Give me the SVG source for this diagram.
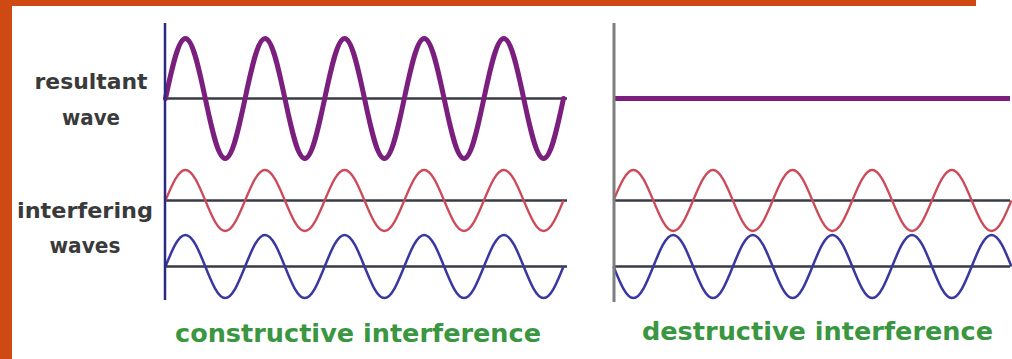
<svg xmlns="http://www.w3.org/2000/svg" width="1012" height="359" viewBox="0 0 1012 359">
<style>
.lbl{font-family:"DejaVu Sans","Verdana",sans-serif;font-weight:bold;font-size:22px;fill:#3a3a3a;text-anchor:middle}
.cap{font-family:"DejaVu Sans","Verdana",sans-serif;font-weight:bold;font-size:25px;fill:#3a9640}
.ax{stroke:#3a3a46;stroke-width:2.5;fill:none}
.res{stroke:#7a1f7e;stroke-width:5;fill:none;stroke-linecap:round}
.red{stroke:#cc4a5a;stroke-width:2.3;fill:none}
.blue{stroke:#3a38a0;stroke-width:2.5;fill:none}
</style>
<rect x="0" y="0" width="1012" height="359" fill="#ffffff"/>
<g id="border" fill="#cf4a12">
<rect x="0" y="0" width="12" height="359"/>
<rect x="0" y="0" width="976" height="6"/>
</g>
<g id="labels">
<text class="lbl" x="91" y="89" textLength="113" lengthAdjust="spacingAndGlyphs">resultant</text>
<text class="lbl" x="91" y="125" textLength="58" lengthAdjust="spacingAndGlyphs">wave</text>
<text class="lbl" x="85" y="218" textLength="136" lengthAdjust="spacingAndGlyphs">interfering</text>
<text class="lbl" x="85" y="253" textLength="71" lengthAdjust="spacingAndGlyphs">waves</text>
</g>
<g id="constructive">
<line class="ax" x1="165" y1="98.5" x2="567" y2="98.5" stroke-width="3"/>
<line class="ax" x1="165" y1="200.5" x2="567" y2="200.5"/>
<line class="ax" x1="165" y1="266.5" x2="567" y2="266.5"/>
<path class="res" d="M165.5,98.5 c6.49,-30.74 12.7,-60 19.9,-60 c7.2,0 13.41,29.26 19.9,60 c6.49,30.74 12.7,60 19.9,60 c7.2,0 13.41,-29.26 19.9,-60 c6.49,-30.74 12.7,-60 19.9,-60 c7.2,0 13.41,29.26 19.9,60 c6.49,30.74 12.7,60 19.9,60 c7.2,0 13.41,-29.26 19.9,-60 c6.49,-30.74 12.7,-60 19.9,-60 c7.2,0 13.41,29.26 19.9,60 c6.49,30.74 12.7,60 19.9,60 c7.2,0 13.41,-29.26 19.9,-60 c6.49,-30.74 12.7,-60 19.9,-60 c7.2,0 13.41,29.26 19.9,60 c6.49,30.74 12.7,60 19.9,60 c7.2,0 13.41,-29.26 19.9,-60 c6.49,-30.74 12.7,-60 19.9,-60 c7.2,0 13.41,29.26 19.9,60 c6.49,30.74 12.7,60 19.9,60 c7.2,0 13.41,-29.26 19.9,-60"/>
<path class="red" d="M165.5,200.5 c6.49,-15.63 12.7,-30.5 19.9,-30.5 c7.2,0 13.41,14.88 19.9,30.5 c6.49,15.63 12.7,30.5 19.9,30.5 c7.2,0 13.41,-14.88 19.9,-30.5 c6.49,-15.63 12.7,-30.5 19.9,-30.5 c7.2,0 13.41,14.88 19.9,30.5 c6.49,15.63 12.7,30.5 19.9,30.5 c7.2,0 13.41,-14.88 19.9,-30.5 c6.49,-15.63 12.7,-30.5 19.9,-30.5 c7.2,0 13.41,14.88 19.9,30.5 c6.49,15.63 12.7,30.5 19.9,30.5 c7.2,0 13.41,-14.88 19.9,-30.5 c6.49,-15.63 12.7,-30.5 19.9,-30.5 c7.2,0 13.41,14.88 19.9,30.5 c6.49,15.63 12.7,30.5 19.9,30.5 c7.2,0 13.41,-14.88 19.9,-30.5 c6.49,-15.63 12.7,-30.5 19.9,-30.5 c7.2,0 13.41,14.88 19.9,30.5 c6.49,15.63 12.7,30.5 19.9,30.5 c7.2,0 13.41,-14.88 19.9,-30.5"/>
<path class="blue" d="M165.5,266.5 c6.49,-16.14 12.7,-31.5 19.9,-31.5 c7.2,0 13.41,15.36 19.9,31.5 c6.49,16.14 12.7,31.5 19.9,31.5 c7.2,0 13.41,-15.36 19.9,-31.5 c6.49,-16.14 12.7,-31.5 19.9,-31.5 c7.2,0 13.41,15.36 19.9,31.5 c6.49,16.14 12.7,31.5 19.9,31.5 c7.2,0 13.41,-15.36 19.9,-31.5 c6.49,-16.14 12.7,-31.5 19.9,-31.5 c7.2,0 13.41,15.36 19.9,31.5 c6.49,16.14 12.7,31.5 19.9,31.5 c7.2,0 13.41,-15.36 19.9,-31.5 c6.49,-16.14 12.7,-31.5 19.9,-31.5 c7.2,0 13.41,15.36 19.9,31.5 c6.49,16.14 12.7,31.5 19.9,31.5 c7.2,0 13.41,-15.36 19.9,-31.5 c6.49,-16.14 12.7,-31.5 19.9,-31.5 c7.2,0 13.41,15.36 19.9,31.5 c6.49,16.14 12.7,31.5 19.9,31.5 c7.2,0 13.41,-15.36 19.9,-31.5"/>
<line x1="165" y1="23" x2="165" y2="300" stroke="#2a2a80" stroke-width="2.5"/>
<text class="cap" x="175" y="342" textLength="366" lengthAdjust="spacingAndGlyphs">constructive interference</text>
</g>
<g id="destructive">
<line class="ax" x1="614" y1="200.5" x2="1010" y2="200.5"/>
<line class="ax" x1="614" y1="266.5" x2="1010" y2="266.5"/>
<line x1="614" y1="98.5" x2="1010" y2="98.5" stroke="#7a1f7e" stroke-width="5"/>
<path class="red" d="M613.5,200.5 c6.49,-15.63 12.7,-30.5 19.9,-30.5 c7.2,0 13.41,14.88 19.9,30.5 c6.49,15.63 12.7,30.5 19.9,30.5 c7.2,0 13.41,-14.88 19.9,-30.5 c6.49,-15.63 12.7,-30.5 19.9,-30.5 c7.2,0 13.41,14.88 19.9,30.5 c6.49,15.63 12.7,30.5 19.9,30.5 c7.2,0 13.41,-14.88 19.9,-30.5 c6.49,-15.63 12.7,-30.5 19.9,-30.5 c7.2,0 13.41,14.88 19.9,30.5 c6.49,15.63 12.7,30.5 19.9,30.5 c7.2,0 13.41,-14.88 19.9,-30.5 c6.49,-15.63 12.7,-30.5 19.9,-30.5 c7.2,0 13.41,14.88 19.9,30.5 c6.49,15.63 12.7,30.5 19.9,30.5 c7.2,0 13.41,-14.88 19.9,-30.5 c6.49,-15.63 12.7,-30.5 19.9,-30.5 c7.2,0 13.41,14.88 19.9,30.5 c6.49,15.63 12.7,30.5 19.9,30.5 c7.2,0 13.41,-14.88 19.9,-30.5"/>
<path class="blue" d="M613.5,266.5 c6.49,16.14 12.7,31.5 19.9,31.5 c7.2,0 13.41,-15.36 19.9,-31.5 c6.49,-16.14 12.7,-31.5 19.9,-31.5 c7.2,0 13.41,15.36 19.9,31.5 c6.49,16.14 12.7,31.5 19.9,31.5 c7.2,0 13.41,-15.36 19.9,-31.5 c6.49,-16.14 12.7,-31.5 19.9,-31.5 c7.2,0 13.41,15.36 19.9,31.5 c6.49,16.14 12.7,31.5 19.9,31.5 c7.2,0 13.41,-15.36 19.9,-31.5 c6.49,-16.14 12.7,-31.5 19.9,-31.5 c7.2,0 13.41,15.36 19.9,31.5 c6.49,16.14 12.7,31.5 19.9,31.5 c7.2,0 13.41,-15.36 19.9,-31.5 c6.49,-16.14 12.7,-31.5 19.9,-31.5 c7.2,0 13.41,15.36 19.9,31.5 c6.49,16.14 12.7,31.5 19.9,31.5 c7.2,0 13.41,-15.36 19.9,-31.5 c6.49,-16.14 12.7,-31.5 19.9,-31.5 c7.2,0 13.41,15.36 19.9,31.5"/>
<line x1="614" y1="23" x2="614" y2="302" stroke="#7f7f7f" stroke-width="3"/>
<text class="cap" x="642" y="340" textLength="351" lengthAdjust="spacingAndGlyphs">destructive interference</text>
</g>
</svg>
